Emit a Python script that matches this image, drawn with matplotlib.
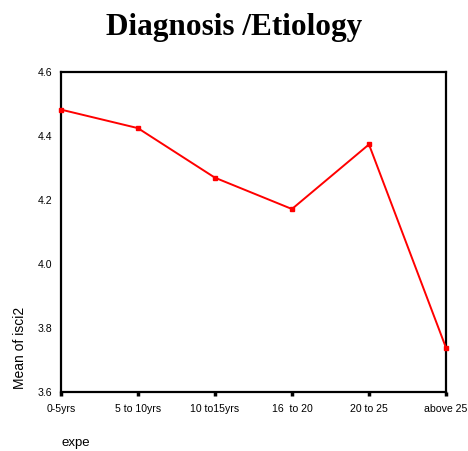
import matplotlib
matplotlib.use("Agg")
import matplotlib.pyplot as plt
import numpy as np

# data
groups = ["0-5yrs", "5 to 10yrs", "10 to15yrs", "16  to 20", "20 to 25", "above 25"]
mean_isci2 = [4.483, 4.425, 4.270, 4.172, 4.374, 3.738]
yticks = [3.6, 3.8, 4.0, 4.2, 4.4, 4.6]

plt.rcParams['font.family'] = ['Liberation Sans', 'DejaVu Sans']

fig = plt.figure(figsize=(4.68, 4.51), dpi=100)
ax = fig.add_axes([0.130, 0.131, 0.823, 0.709])

x = np.arange(len(groups))
ax.plot(x, mean_isci2, color="red", lw=1.4, marker="s", ms=3.5,
        mec="red", mfc="red", clip_on=False, zorder=3)

ax.set_xlim(0, len(groups) - 1)
ax.set_ylim(3.6, 4.6)
ax.set_xticks(x)
ax.set_xticklabels(groups, fontsize=7.6)
ax.set_yticks(yticks)
ax.set_yticklabels(["%.1f" % v for v in yticks], fontsize=7.6)
ax.tick_params(axis="x", direction="out", length=3, width=2.5, pad=6)
ax.tick_params(axis="y", length=0, pad=6)

for s in ax.spines.values():
    s.set_linewidth(1.6)

ax.set_ylabel("Mean of isci2", fontsize=10)
ax.yaxis.set_label_coords(-0.088, 0.01, transform=ax.transAxes)
ax.yaxis.label.set_va("bottom")
ax.yaxis.label.set_ha("left")

fig.text(61 / 468, 1 - 443 / 451, "expe", fontsize=9.5, va="center", ha="left")
fig.text(234 / 468, 1 - 27 / 451, "Diagnosis /Etiology", fontsize=22.5, weight="bold",
         family="Liberation Serif", ha="center", va="center")

fig.savefig("out.png", dpi=100)
